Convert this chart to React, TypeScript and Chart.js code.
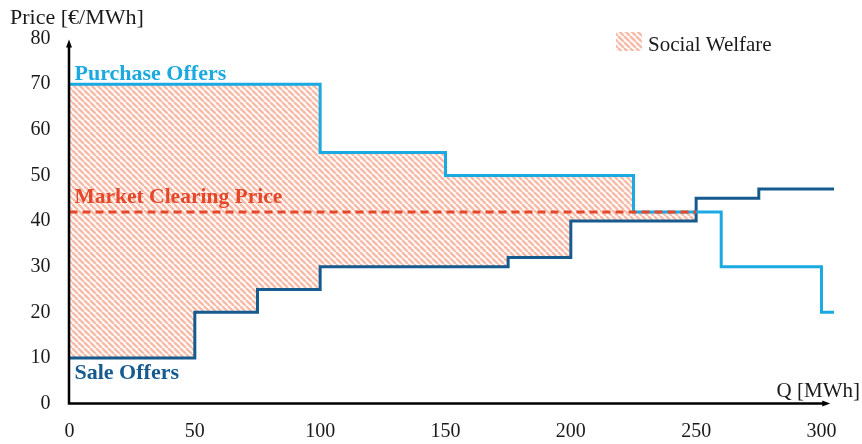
import React, { useEffect, useRef } from "react";
import { Chart, registerables } from "chart.js";

Chart.register(...registerables);

// ---- data ----
const purchaseQ = [0, 100, 150, 225, 260, 300, 305];
const purchaseP = [70, 55, 50, 42, 30, 20, 20];
const saleQ = [0, 50, 75, 100, 175, 200, 250, 275, 305];
const saleP = [10, 20, 25, 30, 32, 40, 45, 47, 47];
const clearingQ = [0, 250];
const clearingP = [42, 42];
const xTickValues = [0, 50, 100, 150, 200, 250, 300];
const yTickValues = [0, 10, 20, 30, 40, 50, 60, 70, 80];
const xMax = 305;
const yMax = 80;

const LIGHT_BLUE = "#1AA9E0";
const DARK_BLUE = "#165A8E";
const RED = "#E5472A";
const HATCH = "#F7BBA8";
const SERIF = "'Liberation Serif', 'DejaVu Serif', serif";

function makeHatch(): CanvasPattern | string {
  const T = 6;
  const c = document.createElement("canvas");
  c.width = T;
  c.height = T;
  const g = c.getContext("2d");
  if (!g) return HATCH;
  g.strokeStyle = HATCH;
  g.lineWidth = 2.5;
  for (let k = -1; k <= 1; k++) {
    g.beginPath();
    g.moveTo(k * T, 0);
    g.lineTo(k * T + T, T);
    g.stroke();
  }
  const p = g.createPattern(c, "repeat");
  return p || HATCH;
}

export default function App() {
  const ref = useRef<HTMLCanvasElement | null>(null);

  useEffect(() => {
    document.body.style.margin = "0";
    const canvas = ref.current;
    if (!canvas) return;
    const hatch = makeHatch();

    const overlay = {
      id: "overlay",
      afterDatasetsDraw(chart: any) {
        const ctx = chart.ctx as CanvasRenderingContext2D;
        const xs = chart.scales.x;
        const ys = chart.scales.y;
        const x0 = xs.getPixelForValue(0) - 0.5;
        const y0 = ys.getPixelForValue(0);
        const yTop = ys.getPixelForValue(yMax) + 1;
        const xEnd = xs.getPixelForValue(303.5);
        ctx.save();
        // axes
        ctx.strokeStyle = "#000";
        ctx.fillStyle = "#000";
        ctx.lineWidth = 2.5;
        ctx.beginPath();
        ctx.moveTo(x0, y0 + 1.2);
        ctx.lineTo(x0, yTop + 6);
        ctx.moveTo(x0 - 1.2, y0);
        ctx.lineTo(xEnd - 6, y0);
        ctx.stroke();
        // arrowheads
        ctx.beginPath();
        ctx.moveTo(x0, yTop);
        ctx.lineTo(x0 - 3, yTop + 8);
        ctx.lineTo(x0 + 3, yTop + 8);
        ctx.closePath();
        ctx.fill();
        ctx.beginPath();
        ctx.moveTo(xEnd, y0);
        ctx.lineTo(xEnd - 8, y0 - 3);
        ctx.lineTo(xEnd - 8, y0 + 3);
        ctx.closePath();
        ctx.fill();

        // axis titles
        ctx.textBaseline = "alphabetic";
        ctx.textAlign = "left";
        ctx.fillStyle = "#1a1a1a";
        ctx.font = `22px ${SERIF}`;
        ctx.fillText("Price [€/MWh]", 10, 24);
        ctx.font = `21px ${SERIF}`;
        ctx.textAlign = "right";
        ctx.fillText("Q [MWh]", 860, 397);

        // series labels
        ctx.textAlign = "left";
        const lx = xs.getPixelForValue(0) + 5;
        ctx.font = `bold 22px ${SERIF}`;
        ctx.fillStyle = LIGHT_BLUE;
        ctx.fillText("Purchase Offers", lx, ys.getPixelForValue(purchaseP[0]) - 4);
        ctx.fillStyle = DARK_BLUE;
        ctx.fillText("Sale Offers", lx, ys.getPixelForValue(saleP[0]) + 21);
        ctx.font = `bold 21.5px ${SERIF}`;
        ctx.fillStyle = RED;
        ctx.fillText("Market Clearing Price", lx, ys.getPixelForValue(clearingP[0]) - 9);

        // legend
        ctx.fillStyle = hatch as any;
        ctx.fillRect(616, 32, 26, 19);
        ctx.fillStyle = "#1a1a1a";
        ctx.font = `21px ${SERIF}`;
        ctx.fillText("Social Welfare", 648, 51);
        ctx.restore();
      },
    };

    const chart = new Chart(canvas, {
      type: "line",
      data: {
        datasets: [
          {
            label: "Market Clearing Price",
            data: clearingQ.map((q, i) => ({ x: q, y: clearingP[i] })),
            borderColor: RED,
            borderWidth: 3,
            borderDash: [8, 5],
            pointRadius: 0,
            fill: false,
            order: 0,
          },
          {
            label: "Purchase Offers",
            data: purchaseQ.map((q, i) => ({ x: q, y: purchaseP[i] })),
            borderColor: LIGHT_BLUE,
            borderWidth: 3,
            stepped: "before",
            pointRadius: 0,
            borderJoinStyle: "miter",
            fill: { target: 2, above: hatch as any, below: "rgba(0,0,0,0)" },
            order: 1,
          },
          {
            label: "Sale Offers",
            data: saleQ.map((q, i) => ({ x: q, y: saleP[i] })),
            borderColor: DARK_BLUE,
            borderWidth: 3,
            stepped: "before",
            pointRadius: 0,
            borderJoinStyle: "miter",
            fill: false,
            order: 2,
          },
        ],
      },
      options: {
        animation: false,
        responsive: false,
        devicePixelRatio: 1,
        layout: { padding: { top: 38.5, right: 28, bottom: 0, left: 0 } },
        plugins: {
          legend: { display: false },
          tooltip: { enabled: false },
          filler: { drawTime: "beforeDatasetsDraw" },
        } as any,
        scales: {
          x: {
            type: "linear",
            min: 0,
            max: xMax,
            grid: { display: false, drawTicks: false },
            border: { display: false },
            afterBuildTicks: (s: any) => {
              s.ticks = xTickValues.map((v) => ({ value: v }));
            },
            ticks: {
              padding: 16,
              color: "#1a1a1a",
              font: { family: SERIF, size: 20 },
              maxRotation: 0,
            },
            afterFit: (s: any) => {
              s.height = 40.5;
            },
          },
          y: {
            type: "linear",
            min: 0,
            max: yMax,
            grid: { display: false, drawTicks: false },
            border: { display: false },
            afterBuildTicks: (s: any) => {
              s.ticks = yTickValues.map((v) => ({ value: v }));
            },
            ticks: {
              padding: 19,
              color: "#1a1a1a",
              font: { family: SERIF, size: 20 },
            },
            afterFit: (s: any) => {
              s.width = 69.5;
            },
          },
        },
      },
      plugins: [overlay],
    } as any);

    return () => chart.destroy();
  }, []);

  return (
    <div style={{ position: "fixed", left: 0, top: 0, width: 862, height: 444 }}>
      <canvas ref={ref} width={862} height={444} style={{ width: 862, height: 444 }} />
    </div>
  );
}
